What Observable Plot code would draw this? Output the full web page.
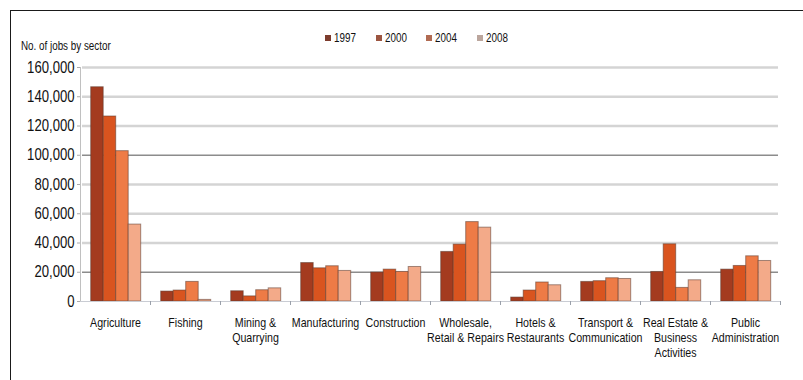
<!DOCTYPE html>
<html>
<head>
<meta charset="utf-8">
<script src="https://cdn.jsdelivr.net/npm/d3@7"></script>
<script src="https://cdn.jsdelivr.net/npm/@observablehq/plot@0.6"></script>
<style>
  body { margin: 0; background: #fff; }
  #wrap {
    position: relative; width: 803px; height: 380px; overflow: hidden;
    font-family: "Liberation Sans", Arial, sans-serif;
    color: #111;
  }
  #frame {
    position: absolute; left: 10px; top: 10px; width: 900px; height: 500px;
    border-top: 1.5px solid #1a1a1a; border-left: 1.5px solid #1a1a1a;
  }
  #chart { position: absolute; left: 0; top: 0; }
  .narrow { display: inline-block; white-space: nowrap; transform: scaleX(0.82); transform-origin: left center; }
  #title { position: absolute; left: 21px; top: 39px; font-size: 12px; line-height: 14px; }
  #legend { position: absolute; left: 325px; top: 31px; display: flex; font-size: 12px; line-height: 14px; }
  #legend .item { width: 50.5px; display: flex; align-items: center; }
  #legend .sw { width: 6px; height: 6px; margin-right: 3px; }
</style>
</head>
<body>
<div id="wrap">
  <div id="frame"></div>
  <div id="chart"></div>
  <div id="title"><span class="narrow">No. of jobs by sector</span></div>
  <div id="legend"></div>
</div>
<script>
// Employment by sector, four survey years
const categories = [
  "Agriculture", "Fishing", "Mining & Quarrying", "Manufacturing", "Construction",
  "Wholesale, Retail & Repairs", "Hotels & Restaurants", "Transport & Communication",
  "Real Estate & Business Activities", "Public Administration"
];
const tickLabels = [
  "Agriculture", "Fishing", "Mining &\nQuarrying", "Manufacturing", "Construction",
  "Wholesale,\nRetail & Repairs", "Hotels &\nRestaurants", "Transport &\nCommunication",
  "Real Estate &\nBusiness\nActivities", "Public\nAdministration"
];
const years = ["1997", "2000", "2004", "2008"];
const jobs1997 = [146500, 6800, 7000, 26300, 19800, 33900, 2700, 13400, 20200, 21800];
const jobs2000 = [126500, 7500, 3500, 22700, 21800, 38900, 7500, 13900, 39100, 24300];
const jobs2004 = [102800, 13400, 7700, 24100, 20200, 54300, 13000, 15900, 9300, 30900];
const jobs2008 = [52600, 1100, 9000, 20900, 23600, 50500, 11100, 15400, 14500, 27700];
const yTicks = [0, 20000, 40000, 60000, 80000, 100000, 120000, 140000, 160000];

const barColors = ["#a43b1f", "#d9541f", "#ee7b46", "#f3aa89"];
const swatchColors = ["#7d3c2d", "#9c5540", "#b16b52", "#bba69d"];

const series = [jobs1997, jobs2000, jobs2004, jobs2008];
const rows = years.flatMap((year, k) =>
  categories.map((sector, i) => ({sector, year, jobs: series[k][i]}))
);

// bar layout inside each 70px category band
const groupInset = 10.7, barW = 12.5, band = 70;
const darkGrid = new Set([20000, 100000]);

const barMarks = years.map((year, k) =>
  Plot.barY(rows.filter(d => d.year === year), {
    x: "sector", y: "jobs", fill: "year",
    insetLeft: groupInset + k * barW,
    insetRight: band - groupInset - (k + 1) * barW,
    stroke: "#5a3a30", strokeOpacity: 0.55, strokeWidth: 1
  })
);

const chart = Plot.plot({
  width: 803,
  height: 380,
  marginLeft: 80,
  marginRight: 23,
  marginTop: 67,
  marginBottom: 79,
  style: {fontFamily: "'Liberation Sans', Arial, sans-serif", background: "transparent"},
  x: {domain: categories, padding: 0, label: null},
  y: {domain: [0, 160000], label: null},
  color: {domain: years, range: barColors},
  marks: [
    Plot.ruleY(yTicks.filter(v => v > 0 && !darkGrid.has(v)), {stroke: "#d4d4d4", strokeWidth: 2.5, insetLeft: 2, insetRight: 2}),
    Plot.ruleY(yTicks.filter(v => darkGrid.has(v)), {stroke: "#8c8c8c", strokeWidth: 1.4, insetLeft: 2, insetRight: 2}),
    ...barMarks,
    Plot.ruleY([0], {stroke: "#c9ccd3", strokeWidth: 1.2}),
    Plot.ruleX(categories, {x: d => d, dx: band / 2, y1: 0, y2: 0, insetBottom: -4, stroke: "#9aa0aa"}),
    Plot.ruleX(categories.slice(0, 1), {x: d => d, dx: -band / 2, y1: 0, y2: 160000, stroke: "#c0c0c0"}),
    Plot.axisY({ticks: yTicks, tickFormat: d3.format(","), tickSize: 3, tickPadding: 3, fontSize: 16, stroke: "#aaa", fill: "#111"}),
    Plot.axisX({tickSize: 0, tickPadding: 15, fontSize: 13, lineHeight: 1.15, fill: "#111",
      tickFormat: d => tickLabels[categories.indexOf(d)]})
  ]
});
document.getElementById("chart").appendChild(chart);

// narrow the axis labels horizontally around their anchor points
chart.querySelectorAll('g[aria-label$="tick label"] text').forEach(el => {
  const parent = el.parentNode;
  const r = el.getBoundingClientRect();
  const anchor = getComputedStyle(el).textAnchor;
  const ax = anchor === "end" ? r.right : anchor === "middle" ? (r.left + r.right) / 2 : r.left;
  const ay = (r.top + r.bottom) / 2;
  const p = new DOMPoint(ax, ay).matrixTransform(parent.getScreenCTM().inverse());
  const g = document.createElementNS("http://www.w3.org/2000/svg", "g");
  g.setAttribute("transform", `translate(${p.x},${p.y}) scale(0.82,1) translate(${-p.x},${-p.y})`);
  parent.insertBefore(g, el);
  g.appendChild(el);
});

const legend = document.getElementById("legend");
years.forEach((y, k) => {
  const item = document.createElement("div");
  item.className = "item";
  item.innerHTML = `<span class="sw" style="background:${swatchColors[k]}"></span><span class="narrow">${y}</span>`;
  legend.appendChild(item);
});
</script>
</body>
</html>
